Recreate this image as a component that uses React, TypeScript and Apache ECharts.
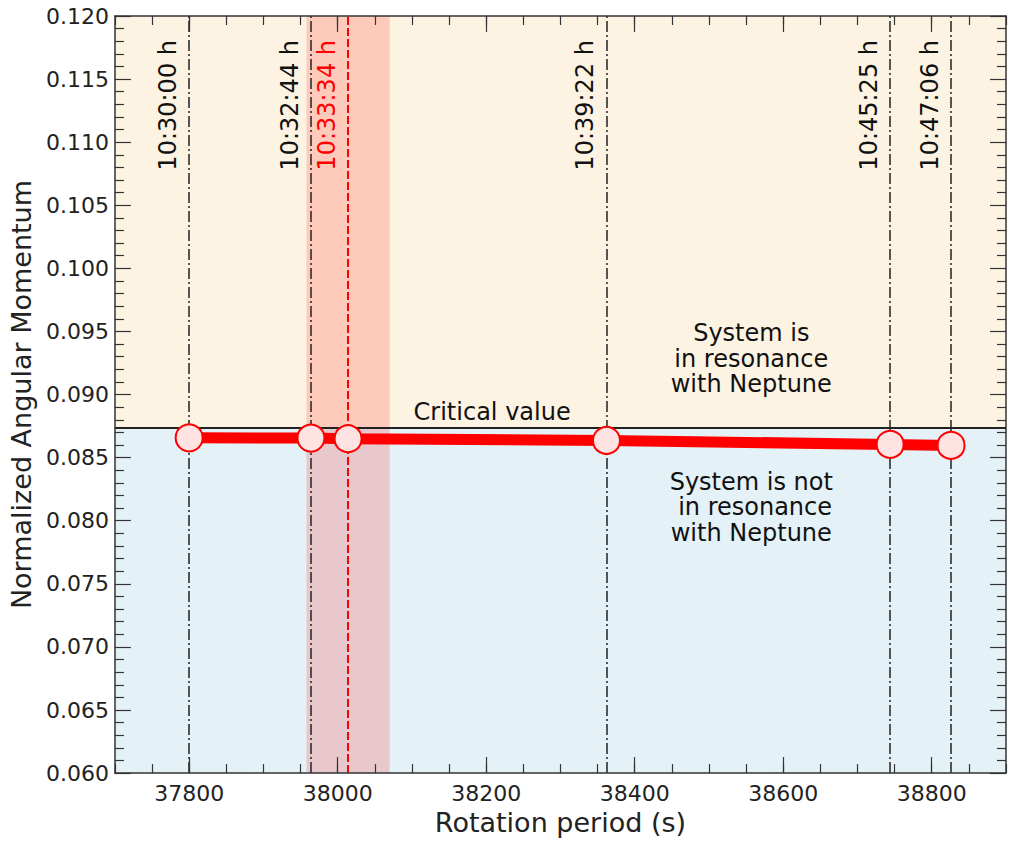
import React, { useEffect, useRef } from "react";
import * as echarts from "echarts";

const periods = [37800, 37964, 38014, 38362, 38744, 38826];
const momentum = [0.08657, 0.08655, 0.0865, 0.08636, 0.08605, 0.08597];
const periodLabels = ["10:30:00 h", "10:32:44 h", "10:33:34 h", "10:39:22 h", "10:45:25 h", "10:47:06 h"];
const highlightIndex = 2;
const criticalValue = 0.08737;
const bandRange = [37958, 38070];
const xMajorTicks = [37800, 38000, 38200, 38400, 38600, 38800];
const xRange = [37700, 38900];
const yRange = [0.06, 0.12];
const upperText = "System is\nin resonance\nwith Neptune";
const lowerText = "System is not\n in resonance\nwith Neptune";
const upperTextPos = [38557, 0.09285];
const lowerTextPos = [38557, 0.08105];
const criticalTextX = 38208;

const FONT = "DejaVu Sans";
const SPINE = "#333333";

export default function App() {
  const ref = useRef<HTMLDivElement>(null);
  useEffect(() => {
    if (!ref.current) return;
    const chart = echarts.init(ref.current, undefined, { renderer: "svg" });
    const grid = { left: 113, right: 9, top: 16, bottom: 66 };

    const xBase = {
      type: "value",
      min: xRange[0],
      max: xRange[1],
      z: 10,
      splitLine: { show: false },
    };
    const yBase = {
      type: "value",
      min: yRange[0],
      max: yRange[1],
      interval: 0.005,
      z: 10,
      splitLine: { show: false },
    };
    const spine = { show: true, onZero: false, lineStyle: { color: SPINE, width: 1.5 } };

    const xAxis = [
      {
        ...xBase,
        position: "bottom",
        interval: 50,
        axisLine: spine,
        axisTick: { show: true, inside: true, length: 9, lineStyle: { color: SPINE, width: 1.2 } },
        axisLabel: {
          show: true,
          customValues: xMajorTicks,
          formatter: (v: number) => String(v),
          color: "#222",
          fontFamily: FONT,
          fontSize: 22,
          margin: 9,
        },
        name: "Rotation period (s)",
        nameLocation: "middle",
        nameGap: 33,
        nameTextStyle: { fontFamily: FONT, fontSize: 27, color: "#222" },
      },
      {
        ...xBase,
        position: "bottom",
        interval: 50,
        axisLine: { show: false },
        axisTick: { show: true, inside: true, length: 16, customValues: xMajorTicks, lineStyle: { color: SPINE, width: 1.2 } },
        axisLabel: { show: false },
      },
      {
        ...xBase,
        position: "top",
        interval: 50,
        axisLine: spine,
        axisTick: { show: true, inside: true, length: 9, lineStyle: { color: SPINE, width: 1.2 } },
        axisLabel: { show: false },
      },
      {
        ...xBase,
        position: "top",
        interval: 50,
        axisLine: { show: false },
        axisTick: { show: true, inside: true, length: 16, customValues: xMajorTicks, lineStyle: { color: SPINE, width: 1.2 } },
        axisLabel: { show: false },
      },
    ];

    const yAxis = [
      {
        ...yBase,
        position: "left",
        axisLine: spine,
        axisTick: { show: true, inside: true, length: 16, lineStyle: { color: SPINE, width: 1.2 } },
        minorTick: { show: true, splitNumber: 5, length: 9, lineStyle: { color: SPINE, width: 1.2 } },
        axisLabel: {
          show: true,
          formatter: (v: number) => v.toFixed(3),
          color: "#222",
          fontFamily: FONT,
          fontSize: 22,
          margin: 6,
        },
        name: "Normalized Angular Momentum",
        nameLocation: "middle",
        nameGap: 68,
        nameTextStyle: { fontFamily: FONT, fontSize: 27, color: "#222" },
      },
      {
        ...yBase,
        position: "right",
        axisLine: spine,
        axisTick: { show: true, inside: true, length: 16, lineStyle: { color: SPINE, width: 1.2 } },
        minorTick: { show: true, splitNumber: 5, length: 9, lineStyle: { color: SPINE, width: 1.2 } },
        axisLabel: { show: false },
      },
    ];

    const verticalLines = periods.map((p, i) => {
      const hl = i === highlightIndex;
      return {
        xAxis: p,
        lineStyle: hl
          ? { color: "#ff0000", width: 2, type: [8, 3] }
          : { color: "#222222", width: 1.5, type: [11, 3, 2, 3] },
      };
    });

    const option: any = {
      animation: false,
      grid,
      xAxis,
      yAxis,
      series: [
        {
          type: "line",
          data: [],
          z: 1,
          silent: true,
          markArea: {
            silent: true,
            data: [
              [{ yAxis: criticalValue, itemStyle: { color: "#fdf3e3" } }, { yAxis: yRange[1] }],
              [{ yAxis: yRange[0], itemStyle: { color: "#e4f1f6" } }, { yAxis: criticalValue }],
            ],
          },
        },
        {
          type: "line",
          data: [],
          z: 2,
          silent: true,
          markArea: {
            silent: true,
            itemStyle: { color: "rgba(255,0,0,0.17)" },
            data: [[{ xAxis: bandRange[0] }, { xAxis: bandRange[1] }]],
          },
        },
        {
          type: "line",
          data: [],
          z: 3,
          silent: true,
          markLine: {
            silent: true,
            symbol: "none",
            precision: 6,
            label: { show: false },
            data: verticalLines,
          },
        },
        {
          type: "line",
          data: [],
          z: 4,
          silent: true,
          markLine: {
            silent: true,
            symbol: "none",
            precision: 6,
            label: { show: false },
            lineStyle: { color: "#222222", width: 2, type: "solid" },
            data: [{ yAxis: criticalValue }],
          },
        },
        {
          type: "line",
          z: 5,
          data: periods.map((p, i) => [p, momentum[i]]),
          symbol: "circle",
          symbolSize: 27,
          lineStyle: { color: "#ff0000", width: 11 },
          itemStyle: { color: "#ffe2e2", borderColor: "#ff0000", borderWidth: 2 },
        },
      ],
    };
    chart.setOption(option);

    const px = (x: number) => chart.convertToPixel({ xAxisIndex: 0 }, x) as number;
    const py = (y: number) => chart.convertToPixel({ yAxisIndex: 0 }, y) as number;
    const topY = py(yRange[1]);

    const graphics: any[] = periods.map((p, i) => ({
      type: "text",
      x: px(p) - 21,
      y: topY + 24,
      rotation: Math.PI / 2,
      z: 100,
      style: {
        text: periodLabels[i],
        fontFamily: FONT,
        fontSize: 24,
        fill: i === highlightIndex ? "#ff0000" : "#111111",
        align: "right",
        verticalAlign: "middle",
      },
    }));
    graphics.push({
      type: "text",
      x: px(criticalTextX),
      y: py(criticalValue) - 16,
      z: 100,
      style: { text: "Critical value", fontFamily: FONT, fontSize: 24, fill: "#111", align: "center", verticalAlign: "middle" },
    });
    graphics.push({
      type: "text",
      x: px(upperTextPos[0]),
      y: py(upperTextPos[1]),
      z: 100,
      style: { text: upperText, fontFamily: FONT, fontSize: 24, lineHeight: 25.5, fill: "#111", align: "center", verticalAlign: "middle" },
    });
    graphics.push({
      type: "text",
      x: px(lowerTextPos[0]),
      y: py(lowerTextPos[1]),
      z: 100,
      style: { text: lowerText, fontFamily: FONT, fontSize: 24, lineHeight: 25.5, fill: "#111", align: "center", verticalAlign: "middle" },
    });
    chart.setOption({ graphic: graphics });

    return () => chart.dispose();
  }, []);

  return (
    <div
      ref={ref}
      style={{ position: "absolute", left: 0, top: 0, width: 1015, height: 841, background: "#ffffff" }}
    />
  );
}
